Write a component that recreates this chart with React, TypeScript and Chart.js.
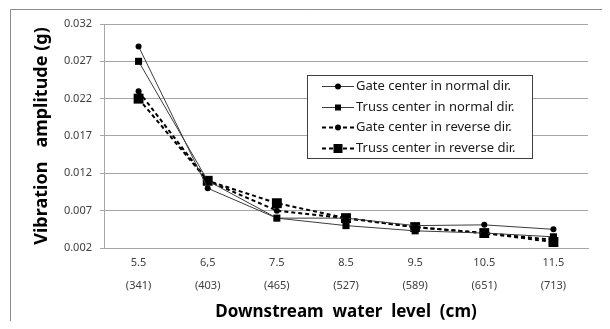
import React, { useEffect, useRef } from "react";
import { Chart, registerables } from "chart.js";

Chart.register(...registerables);

const xLevels = ["5.5", "6,5", "7.5", "8.5", "9.5", "10.5", "11.5"];
const xFlows = ["(341)", "(403)", "(465)", "(527)", "(589)", "(651)", "(713)"];
const yTicks = [0.002, 0.007, 0.012, 0.017, 0.022, 0.027, 0.032];

const gateNormal = [0.029, 0.010, 0.006, 0.006, 0.005, 0.0051, 0.0045];
const trussNormal = [0.027, 0.011, 0.006, 0.005, 0.0043, 0.004, 0.0035];
const gateReverse = [0.023, 0.011, 0.007, 0.006, 0.0048, 0.004, 0.0031];
const trussReverse = [0.022, 0.011, 0.008, 0.006, 0.0048, 0.004, 0.0028];

const seriesNames = [
  "Gate center in normal dir.",
  "Truss center in normal dir.",
  "Gate center in reverse dir.",
  "Truss center in reverse dir.",
];

const FONT = "'Noto Sans', 'Open Sans', sans-serif";

const frameAndLegend = {
  id: "frameAndLegend",
  beforeDraw(chart: any) {
    const ctx = chart.ctx;
    ctx.save();
    ctx.strokeStyle = "#8c8c8c";
    ctx.lineWidth = 1;
    ctx.beginPath();
    ctx.moveTo(2.5, chart.height);
    ctx.lineTo(2.5, 1.5);
    ctx.lineTo(chart.width, 1.5);
    ctx.stroke();
    ctx.restore();
  },
  afterDraw(chart: any) {
    const ctx = chart.ctx;
    const bx = 299.5, by = 67.5, bw = 225, bh = 83;
    ctx.save();
    ctx.fillStyle = "#ffffff";
    ctx.fillRect(bx, by, bw, bh);
    ctx.strokeStyle = "#404040";
    ctx.lineWidth = 1;
    ctx.strokeRect(bx, by, bw, bh);
    const rowY = [78, 98.7, 119.3, 140];
    chart.data.datasets.forEach((ds: any, i: number) => {
      const y = Math.round(rowY[i]) + 0.5;
      ctx.save();
      ctx.strokeStyle = ds.borderColor;
      ctx.lineWidth = ds.borderWidth;
      ctx.setLineDash(ds.borderDash || []);
      ctx.beginPath();
      ctx.moveTo(314, y);
      ctx.lineTo(346, y);
      ctx.stroke();
      ctx.restore();
      ctx.fillStyle = "#000";
      const r = ds.legendMarker;
      ctx.beginPath();
      if (ds.pointStyle === "circle") {
        ctx.arc(330, y, r, 0, Math.PI * 2);
      } else {
        ctx.rect(330 - r, y - r, 2 * r, 2 * r);
      }
      ctx.fill();
      ctx.fillStyle = "#1a1a1a";
      ctx.font = `13px ${FONT}`;
      ctx.textBaseline = "middle";
      ctx.textAlign = "left";
      ctx.fillText(ds.label, 348, y);
    });
    ctx.restore();
  },
};

export default function App() {
  const ref = useRef<HTMLCanvasElement>(null);
  useEffect(() => {
    const canvas = ref.current;
    if (!canvas) return;
    const mk = (
      label: string,
      data: number[],
      style: string,
      radius: number,
      dashed: boolean,
      legendMarker: number
    ) => ({
      label,
      data,
      borderColor: dashed ? "#000000" : "#3c3c3c",
      borderWidth: dashed ? 2 : 1,
      borderDash: dashed ? [4, 3] : [],
      pointStyle: style,
      pointRadius: radius,
      pointBorderWidth: 0,
      pointBackgroundColor: "#000000",
      pointBorderColor: "#000000",
      fill: false,
      tension: 0,
      legendMarker,
    });
    const chart = new Chart(canvas, {
      type: "line",
      data: {
        labels: xLevels.map((l, i) => [l, xFlows[i]]),
        datasets: [
          mk(seriesNames[0], gateNormal, "circle", 3, false, 3),
          mk(seriesNames[1], trussNormal, "rect", 5, false, 3),
          mk(seriesNames[2], gateReverse, "circle", 3, true, 3),
          mk(seriesNames[3], trussReverse, "rect", 7, true, 4.5),
        ] as any,
      },
      options: {
        responsive: false,
        animation: false,
        devicePixelRatio: 1,
        layout: { padding: { left: 0, right: 14, top: 16, bottom: 0 } },
        plugins: {
          legend: { display: false },
          tooltip: { enabled: false },
        },
        scales: {
          x: {
            type: "category",
            offset: true,
            grid: { display: false, drawTicks: false },
            border: { display: true, color: "#a6a6a6", width: 1 },
            ticks: {
              color: "#404040",
              padding: 3,
              font: { family: FONT, size: 11, lineHeight: "23px" as any },
              maxRotation: 0,
              autoSkip: false,
            },
            title: {
              display: true,
              text: "Downstream  water  level  (cm)",
              color: "#000000",
              font: { family: FONT, size: 17, weight: "bold", lineHeight: 1 },
              padding: { top: 0, bottom: 0 },
            },
            afterFit(scale: any) {
              scale.height = 73;
            },
          },
          y: {
            type: "linear",
            min: 0.002,
            max: 0.032,
            grid: { color: "#a6a6a6", tickLength: 4, lineWidth: 1 },
            border: { display: true, color: "#a6a6a6", width: 1 },
            afterBuildTicks(scale: any) {
              scale.ticks = yTicks.map((v) => ({ value: v }));
            },
            ticks: {
              color: "#404040",
              padding: 8,
              font: { family: FONT, size: 11 },
              callback: (v: any) => Number(v).toFixed(3),
            },
            title: {
              display: true,
              text: "Vibration   amplitude (g)",
              color: "#000000",
              font: { family: FONT, size: 18, weight: "bold", lineHeight: 1.2 },
              padding: { top: 23, bottom: 0 },
            },
            afterFit(scale: any) {
              scale.width = 96;
            },
          },
        },
      },
      plugins: [frameAndLegend],
    });
    return () => chart.destroy();
  }, []);
  return (
    <canvas
      ref={ref}
      width={594}
      height={313}
      style={{ display: "block", width: 594, height: 313 }}
    />
  );
}
